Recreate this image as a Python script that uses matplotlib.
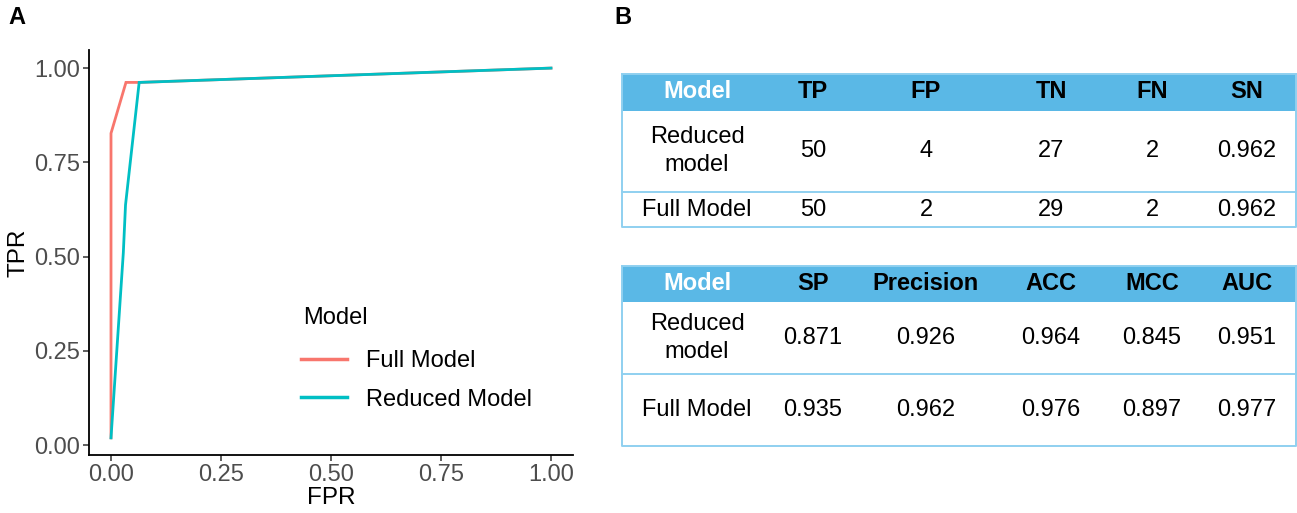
import matplotlib
matplotlib.use("Agg")
import matplotlib.pyplot as plt
from matplotlib.patches import Rectangle

plt.rcParams['font.family'] = ['Liberation Sans', 'DejaVu Sans']

# ==========================================
# ROC curve data
# ==========================================
fpr_full = [0.0, 0.0, 0.034, 0.064, 1.0]
tpr_full = [0.019, 0.827, 0.962, 0.962, 1.0]
fpr_reduced = [0.0, 0.028, 0.033, 0.064, 1.0]
tpr_reduced = [0.019, 0.51, 0.637, 0.962, 1.0]
series_names = ['Full Model', 'Reduced Model']
series_colors = ['#F8766D', '#00BFC4']
x_ticks = [0.0, 0.25, 0.5, 0.75, 1.0]
y_ticks = [0.0, 0.25, 0.5, 0.75, 1.0]

# ==========================================
# table data
# ==========================================
row_names = ['Reduced\nmodel', 'Full Model']
table1_cols = ['Model', 'TP', 'FP', 'TN', 'FN', 'SN']
table1_rows = [['50', '4', '27', '2', '0.962'],
               ['50', '2', '29', '2', '0.962']]
table2_cols = ['Model', 'SP', 'Precision', 'ACC', 'MCC', 'AUC']
table2_rows = [['0.871', '0.926', '0.964', '0.845', '0.951'],
               ['0.935', '0.962', '0.976', '0.897', '0.977']]

W, H = 1297, 513
fig = plt.figure(figsize=(W / 100, H / 100), dpi=100)

# ---------- panel A ----------
ax = fig.add_axes([89 / W, 1 - 455 / H, (573 - 89) / W, (455 - 50) / H])
ax.plot(fpr_full, tpr_full, color=series_colors[0], lw=2.0, label=series_names[0],
        solid_joinstyle='miter')
ax.plot(fpr_reduced, tpr_reduced, color=series_colors[1], lw=2.0, label=series_names[1],
        solid_joinstyle='miter')
ax.set_xlim(-0.05, 1.05)
ax.set_ylim(-0.0265, 1.048)
ax.set_xticks(x_ticks)
ax.set_yticks(y_ticks)
ax.set_xticklabels([f'{v:.2f}' for v in x_ticks])
ax.set_yticklabels([f'{v:.2f}' for v in y_ticks])
ax.tick_params(labelsize=17, labelcolor='#4D4D4D', color='#333333', length=4, width=1.1,
               pad=2.5)
for s in ['top', 'right']:
    ax.spines[s].set_visible(False)
for s in ['left', 'bottom']:
    ax.spines[s].set_linewidth(1.3)
ax.set_xlabel('FPR', fontsize=17.5, labelpad=1)
ax.set_ylabel('TPR', fontsize=17.5, labelpad=3)

# legend: title drawn separately so its gap to the entries can match
fig.text(303 / W, 1 - 318 / H, 'Model', fontsize=17, va='center', ha='left')
leg = ax.legend(loc='upper left',
                bbox_to_anchor=(301 / W, 1 - 350 / H), bbox_transform=fig.transFigure,
                frameon=False, fontsize=17, borderpad=0,
                borderaxespad=0, handlelength=1.95, handletextpad=0.8,
                labelspacing=0.7)
for line in leg.get_lines():
    line.set_linewidth(2.5)

fig.text(8 / W, 1 - 18 / H, 'A', fontsize=17, fontweight='bold', va='center', ha='left')
fig.text(614 / W, 1 - 18 / H, 'B', fontsize=17, fontweight='bold', va='center', ha='left')

# ---------- panel B: tables ----------
tax = fig.add_axes([0, 0, 1, 1])
tax.set_xlim(0, W)
tax.set_ylim(H, 0)
tax.axis('off')

header_color = '#5AB8E6'
border_color = '#8FD0F0'
col_x = [697, 813, 926, 1051, 1152, 1247]


def draw_table(cols, rows, top, header_h, row_bounds):
    left, right = 622, 1296
    tax.add_patch(Rectangle((left, top), right - left, header_h, facecolor=header_color,
                            edgecolor='none'))
    bottom = row_bounds[-1]
    tax.plot([left, left, right, right], [top, bottom, bottom, top], color=border_color, lw=1.4)
    tax.plot([left, right], [top, top], color=border_color, lw=1.4)
    for yb in row_bounds[:-1]:
        tax.plot([left, right], [yb, yb], color=border_color, lw=1.4)
    for j, c in enumerate(cols):
        tax.text(col_x[j], top + header_h / 2, c, ha='center', va='center', fontsize=17,
                 fontweight='bold', color='white' if j == 0 else 'black')
    prev = top + header_h
    for i, vals in enumerate(rows):
        yc = (prev + row_bounds[i]) / 2
        tax.text(col_x[0], yc, row_names[i], ha='center', va='center', fontsize=17,
                 linespacing=1.35)
        for j, v in enumerate(vals):
            tax.text(col_x[j + 1], yc, v, ha='center', va='center', fontsize=17)
        prev = row_bounds[i]


draw_table(table1_cols, table1_rows, 73.5, 37, [192, 227])
draw_table(table2_cols, table2_rows, 266, 36, [374, 446])

fig.savefig('out.png', dpi=100)
